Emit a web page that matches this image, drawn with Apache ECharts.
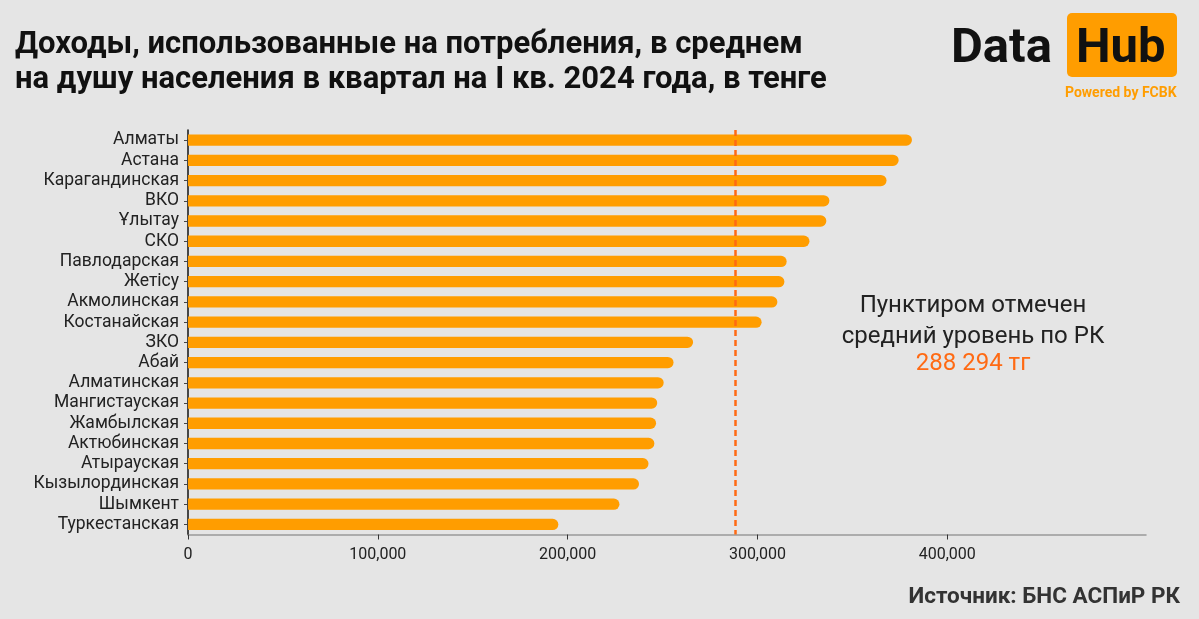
<!DOCTYPE html>
<html>
<head>
<meta charset="utf-8">
<script src="https://cdn.jsdelivr.net/npm/echarts@6/dist/echarts.min.js"></script>
<style>
html,body{margin:0;padding:0;background:#E5E5E5;}
#c{width:1199px;height:619px;}
</style>
</head>
<body>
<div id="c"></div>
<script>
const categories = ["Алматы","Астана","Карагандинская","ВКО","Ұлытау","СКО","Павлодарская","Жетісу","Акмолинская","Костанайская","ЗКО","Абай","Алматинская","Мангистауская","Жамбылская","Актюбинская","Атырауская","Кызылординская","Шымкент","Туркестанская"];
const values = [381400,374400,368000,337900,336300,327400,315400,314200,310500,302200,266100,255800,250600,247200,246600,245700,242600,237600,227300,195100];
const average = 288294;
const xTicks = [0,100000,200000,300000,400000];

const chart = echarts.init(document.getElementById('c'));
chart.setOption({
  backgroundColor: '#E5E5E5',
  animation: false,
  title: {
    text: 'Доходы, использованные на потребления, в среднем\nна душу населения в квартал на I кв. 2024 года, в тенге',
    left: 10, top: 23,
    textStyle: {fontFamily: 'Roboto', fontWeight: 'bold', fontSize: 31, color: '#111', lineHeight: 35}
  },
  grid: {left: 188, right: 53, top: 130, bottom: 84.5, containLabel: false},
  xAxis: {
    type: 'value', min: 0, max: 504700,
    axisLine: {show: true, lineStyle: {color: '#999', width: 1.5}},
    axisTick: {show: true, customValues: xTicks, length: 5, lineStyle: {color: '#333'}},
    axisLabel: {customValues: xTicks, margin: 12, fontFamily: 'Roboto', fontSize: 16, color: '#222',
      formatter: v => v.toLocaleString('en-US')},
    splitLine: {show: false}
  },
  yAxis: {
    type: 'category', data: categories, inverse: true,
    axisLine: {show: true, lineStyle: {color: '#111', width: 1.5}},
    axisTick: {show: true, length: 4, alignWithLabel: true, lineStyle: {color: '#444'}},
    axisLabel: {interval: 0, fontFamily: 'Roboto', fontSize: 17.5, color: '#222', margin: 9}
  },
  series: [{
    type: 'bar', data: values, barWidth: 11.3,
    itemStyle: {color: '#FF9D00', borderRadius: [0, 6, 6, 0]},
    markLine: {
      silent: true, symbol: 'none', label: {show: false},
      lineStyle: {color: '#FF6A13', type: [6, 4], width: 2.5},
      data: [{xAxis: average}]
    }
  }],
  graphic: [
    {type: 'text', left: 951, top: 25, style: {text: 'Data', fontFamily: 'Roboto', fontWeight: 'bold', fontSize: 49, fill: '#111'}},
    {type: 'rect', shape: {x: 1067, y: 13, width: 110, height: 64, r: 5}, style: {fill: '#FF9D00'}},
    {type: 'text', left: 1076, top: 25, style: {text: 'Hub', fontFamily: 'Roboto', fontWeight: 'bold', fontSize: 49, fill: '#111'}},
    {type: 'text', left: 1065, top: 86, style: {text: 'Powered by FCBK', fontFamily: 'Roboto', fontWeight: 'bold', fontSize: 14, fill: '#FF9D00'}},
    {type: 'text', x: 973, y: 290, style: {text: 'Пунктиром отмечен\nсредний уровень по РК', align: 'center', fontFamily: 'Roboto', fontSize: 24, lineHeight: 31, fill: '#222'}},
    {type: 'text', x: 973, y: 352, style: {text: average.toLocaleString('ru-RU').replace(/\s/g, ' ') + ' тг', align: 'center', fontFamily: 'Roboto', fontSize: 24, fill: '#FF6A13'}},
    {type: 'text', right: 19, top: 586, style: {text: 'Источник: БНС АСПиР РК', fontFamily: 'Roboto', fontWeight: 'bold', fontSize: 22.5, fill: '#333'}}
  ]
});
</script>
</body>
</html>
